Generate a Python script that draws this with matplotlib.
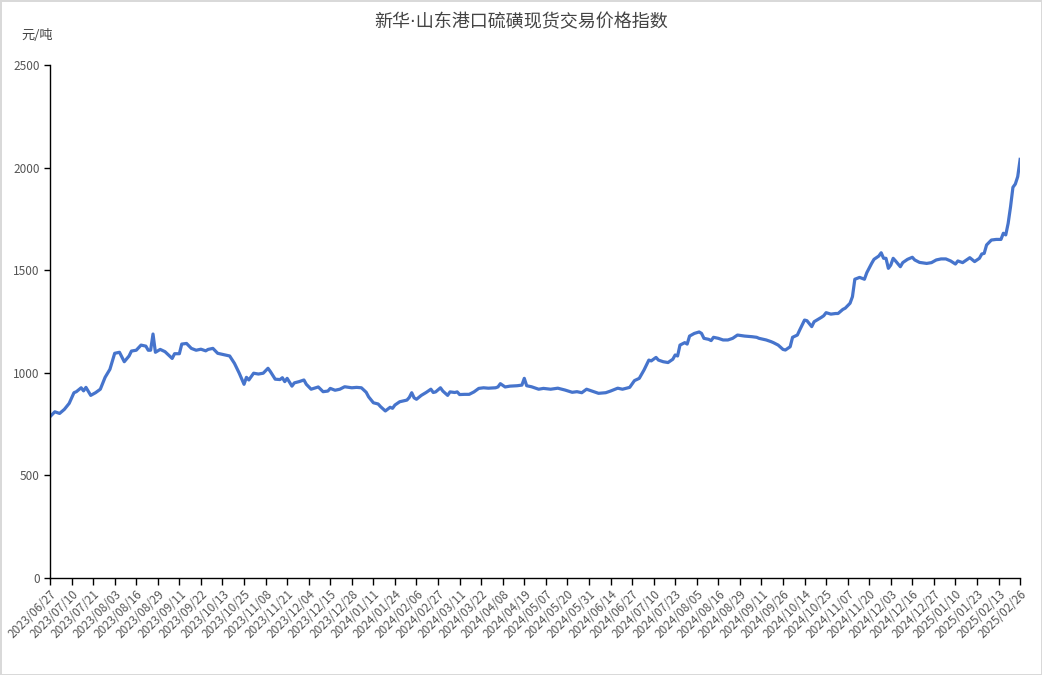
import numpy as np
import matplotlib
matplotlib.use("Agg")
import matplotlib.pyplot as plt

plt.rcParams['font.family'] = ['Noto Sans CJK SC', 'DejaVu Sans']

# tick labels, one every 9 trading days
tick_labels = [
    "2023/06/27", "2023/07/10", "2023/07/21", "2023/08/03", "2023/08/16", "2023/08/29",
    "2023/09/11", "2023/09/22", "2023/10/13", "2023/10/25", "2023/11/08", "2023/11/21",
    "2023/12/04", "2023/12/15", "2023/12/28", "2024/01/11", "2024/01/24", "2024/02/06",
    "2024/02/27", "2024/03/11", "2024/03/22", "2024/04/08", "2024/04/19", "2024/05/07",
    "2024/05/20", "2024/05/31", "2024/06/14", "2024/06/27", "2024/07/10", "2024/07/23",
    "2024/08/05", "2024/08/16", "2024/08/29", "2024/09/11", "2024/09/26", "2024/10/14",
    "2024/10/25", "2024/11/07", "2024/11/20", "2024/12/03", "2024/12/16", "2024/12/27",
    "2025/01/10", "2025/01/23", "2025/02/13", "2025/02/26",
]

# trading-day index (0 = 2023/06/27) and price index
day_idx = [
    0, 2, 4, 6, 8, 10, 11, 13, 14, 15, 17, 19, 21, 23, 25, 27, 29, 31, 33, 34,
    36, 38, 40, 41, 42, 43, 44, 46, 48, 51, 52, 54, 55, 57, 59, 61, 63, 65, 66, 68,
    70, 72, 75, 77, 79, 81, 82, 83, 85, 87, 89, 91, 92, 94, 96, 97, 98, 99, 101, 102,
    104, 106, 107, 109, 112, 114, 116, 117, 119, 121, 123, 126, 128, 130, 132, 133, 135, 137, 138, 140,
    142, 143, 144, 146, 149, 150, 151, 152, 153, 155, 157, 159, 160, 161, 163, 164, 166, 167, 169, 170,
    171, 173, 175, 177, 179, 181, 183, 186, 187, 188, 190, 192, 195, 197, 198, 199, 201, 204, 206, 209,
    212, 215, 218, 220, 222, 224, 227, 229, 232, 234, 237, 239, 242, 244, 246, 248, 250, 251, 253, 254,
    256, 258, 260, 261, 262, 263, 265, 266, 267, 269, 271, 272, 273, 275, 276, 277, 279, 281, 283, 285,
    287, 290, 293, 295, 296, 299, 301, 302, 304, 306, 307, 309, 310, 312, 313, 315, 316, 318, 319, 322,
    323, 324, 326, 328, 329, 331, 332, 334, 335, 336, 338, 340, 341, 343, 344, 346, 347, 348, 349, 350,
    351, 352, 353, 355, 356, 358, 360, 361, 363, 366, 368, 370, 372, 374, 376, 378, 379, 381, 382, 384,
    386, 388, 389, 390, 391, 393, 395, 397, 398, 399, 400, 401, 402, 403, 404, 405,
]
price = [
    786, 810, 802, 822, 851, 903, 908, 927, 912, 929, 890, 903, 920, 978, 1017, 1095, 1100, 1054, 1082, 1106,
    1110, 1135, 1130, 1110, 1110, 1189, 1100, 1114, 1103, 1070, 1093, 1093, 1140, 1143, 1119, 1110, 1115, 1107, 1114, 1119,
    1095, 1090, 1082, 1046, 998, 944, 978, 965, 998, 994, 998, 1022, 1006, 969, 967, 976, 957, 973, 935, 951,
    957, 965, 944, 920, 931, 908, 911, 924, 915, 920, 932, 927, 929, 927, 905, 883, 854, 848, 835, 814,
    832, 827, 843, 859, 867, 880, 903, 878, 871, 890, 904, 920, 904, 907, 927, 911, 890, 907, 904, 907,
    894, 895, 895, 907, 924, 927, 925, 927, 931, 947, 931, 935, 937, 940, 973, 937, 932, 920, 924, 920,
    925, 916, 905, 908, 903, 920, 908, 900, 903, 911, 925, 920, 929, 962, 973, 1014, 1062, 1058, 1075, 1062,
    1054, 1050, 1066, 1087, 1082, 1135, 1147, 1140, 1179, 1192, 1199, 1192, 1168, 1163, 1157, 1173, 1168, 1160, 1160, 1168,
    1184, 1179, 1176, 1173, 1168, 1160, 1152, 1147, 1135, 1114, 1111, 1127, 1173, 1184, 1209, 1257, 1254, 1225, 1249, 1270,
    1278, 1293, 1286, 1289, 1289, 1309, 1315, 1339, 1371, 1456, 1465, 1456, 1488, 1533, 1553, 1569, 1585, 1558, 1558, 1509,
    1525, 1558, 1545, 1517, 1537, 1553, 1563, 1550, 1538, 1533, 1537, 1550, 1555, 1555, 1545, 1530, 1545, 1537, 1545, 1561,
    1542, 1558, 1579, 1582, 1623, 1647, 1650, 1650, 1680, 1672, 1728, 1809, 1904, 1920, 1956, 2040,
]

tick_step = 9
tick_pos = np.arange(len(tick_labels)) * tick_step

fig = plt.figure(figsize=(10.42, 6.75), dpi=100, edgecolor='#d9d9d9', linewidth=2)
ax = fig.add_axes([0.048, 0.1437, 0.931, 0.76])

ax.plot(day_idx, price, color='#4674cc', linewidth=2.3, solid_joinstyle='round')

ax.set_xlim(0, tick_pos[-1])
ax.set_ylim(0, 2500)
ax.set_yticks([0, 500, 1000, 1500, 2000, 2500])
ax.set_xticks(tick_pos)
ax.set_xticklabels(tick_labels, rotation=45, ha='right', rotation_mode='anchor',
                   fontsize=8.5, color='#555555')
ax.tick_params(axis='y', labelsize=8.5, labelcolor='#555555', length=4, width=1)
ax.tick_params(axis='x', length=5, width=1, pad=2)

for side in ['top', 'right']:
    ax.spines[side].set_visible(False)
for side in ['left', 'bottom']:
    ax.spines[side].set_color('black')
    ax.spines[side].set_linewidth(1)

# DejaVu first so the middle dot stays narrow, CJK glyphs fall back to Noto
fig.text(0.5, 0.967, '新华·山东港口硫磺现货交易价格指数', ha='center', va='center',
         fontsize=13, color='#444444', family=['DejaVu Sans', 'Noto Sans CJK SC'])
fig.text(0.036, 0.947, '元/吨', ha='center', va='center', fontsize=9.5, color='#444444')

fig.savefig('out.png', dpi=100, edgecolor=fig.get_edgecolor())
